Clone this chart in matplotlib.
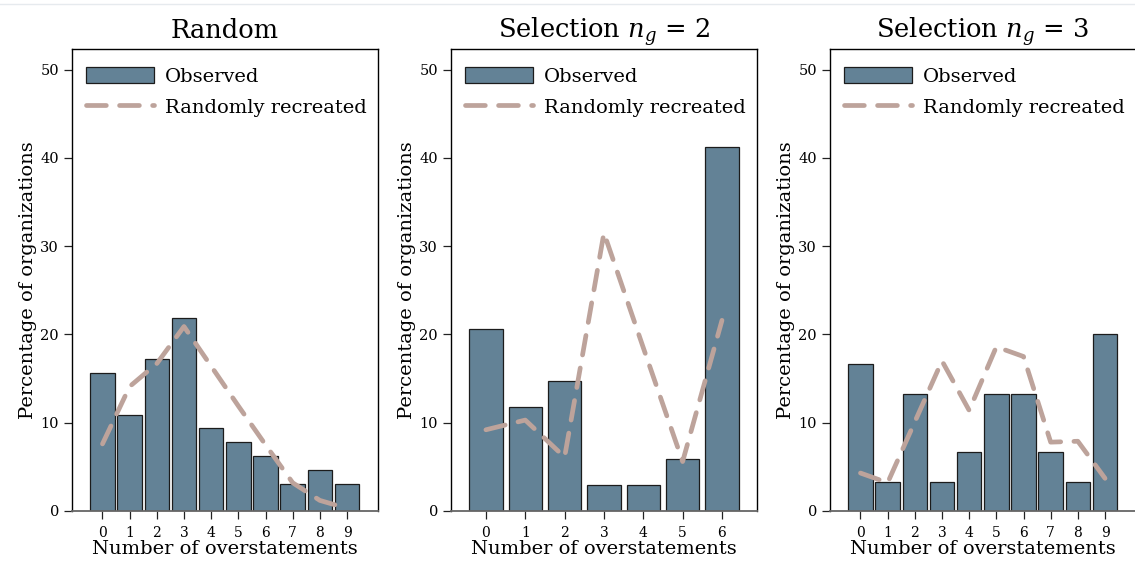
import matplotlib
matplotlib.use('Agg')
import matplotlib.pyplot as plt
from matplotlib.lines import Line2D

FIG_W, FIG_H = 1135, 571
DPI = 100

BAR_COLOR = '#638296'
LINE_COLOR = '#bda39b'

# Random allocation
random_counts = list(range(10))
random_observed = [15.6, 10.9, 17.2, 21.9, 9.4, 7.8, 6.25, 3.1, 4.7, 3.1]
random_recreated = [7.6, 14.1, 16.7, 20.9, 16.4, 11.9, 7.5, 3.2, 1.2, 0.3]

# Selection, n_g = 2
sel2_counts = list(range(7))
sel2_observed = [20.6, 11.8, 14.7, 2.9, 2.9, 5.9, 41.2]
sel2_recreated = [9.2, 10.3, 6.1, 31.5, 18.5, 5.6, 21.6]

# Selection, n_g = 3
sel3_counts = list(range(10))
sel3_observed = [16.7, 3.3, 13.3, 3.3, 6.7, 13.3, 13.3, 6.7, 3.3, 20.0]
sel3_recreated = [4.3, 3.2, 10.1, 17.0, 11.4, 18.6, 17.5, 7.8, 7.9, 3.7]

titles = ['Random', r'Selection $n_g$ = 2', r'Selection $n_g$ = 3']
y_ticks = [0, 10, 20, 30, 40, 50]

plt.rcParams['font.family'] = 'DejaVu Serif'
plt.rcParams['mathtext.fontset'] = 'dejavuserif'


def px_box(left, right, top=49.3, bottom=511):
    '''Axes rectangle in figure fractions from pixel edges'''
    return [left / FIG_W, 1 - bottom / FIG_H,
            (right - left) / FIG_W, (bottom - top) / FIG_H]


def panel(ax, counts, observed, recreated, title, width, xlim):
    '''
    One panel: observed shares as bars, the randomly recreated
    distribution as a dashed line on top
    '''
    bars = ax.bar(counts, observed, width=width, color=BAR_COLOR,
                  edgecolor='#1c1c1c', linewidth=0.9, label='Observed',
                  zorder=2)
    line, = ax.plot(counts, recreated, color=LINE_COLOR, lw=3.4,
                    dashes=(4.2, 2.8), dash_capstyle='round',
                    label='Randomly recreated', zorder=3)

    ax.set_xlim(*xlim)
    ax.set_ylim(0, 52.3)
    ax.set_xticks(counts)
    ax.set_yticks(y_ticks)
    ax.tick_params(axis='both', direction='out', length=6, width=0.9,
                   color='#222222')
    ax.tick_params(axis='y', labelsize=10.5, pad=3)
    ax.tick_params(axis='x', labelsize=10, pad=5)

    for side in ('left', 'top', 'right'):
        ax.spines[side].set_color('black')
        ax.spines[side].set_linewidth(1.0)
    ax.spines['bottom'].set_color('#666666')
    ax.spines['bottom'].set_linewidth(1.3)

    ax.set_title(title, fontsize=18.5, pad=8)
    ax.set_xlabel('Number of overstatements', fontsize=14, labelpad=0)
    ax.set_ylabel('Percentage of organizations', fontsize=14, labelpad=2)

    ax_w = ax.get_position().width * FIG_W
    ax_h = ax.get_position().height * FIG_H
    ax.legend(handles=[bars, line], loc='upper left',
              bbox_to_anchor=(14 / ax_w, 1 - 18 / ax_h),
              frameon=False, fontsize=14, handlelength=3.5,
              handleheight=0.9, handletextpad=0.57, labelspacing=0.6,
              borderpad=0, borderaxespad=0)


fig = plt.figure(figsize=(FIG_W / DPI, FIG_H / DPI), dpi=DPI)

ax1 = fig.add_axes(px_box(71.5, 378))
ax2 = fig.add_axes(px_box(450.5, 757))
ax3 = fig.add_axes(px_box(829.5, 1136))

panel(ax1, random_counts, random_observed, random_recreated,
      titles[0], 0.9, (-1.14, 10.14))
panel(ax2, sel2_counts, sel2_observed, sel2_recreated,
      titles[1], 0.85, (-0.9, 6.89))
panel(ax3, sel3_counts, sel3_observed, sel3_recreated,
      titles[2], 0.9, (-1.14, 10.14))

# faint rule along the top edge of the page
fig.add_artist(Line2D([0, 1], [1 - 4 / FIG_H] * 2, color='#e6eaee', lw=1))

fig.savefig('out.png', dpi=DPI)
